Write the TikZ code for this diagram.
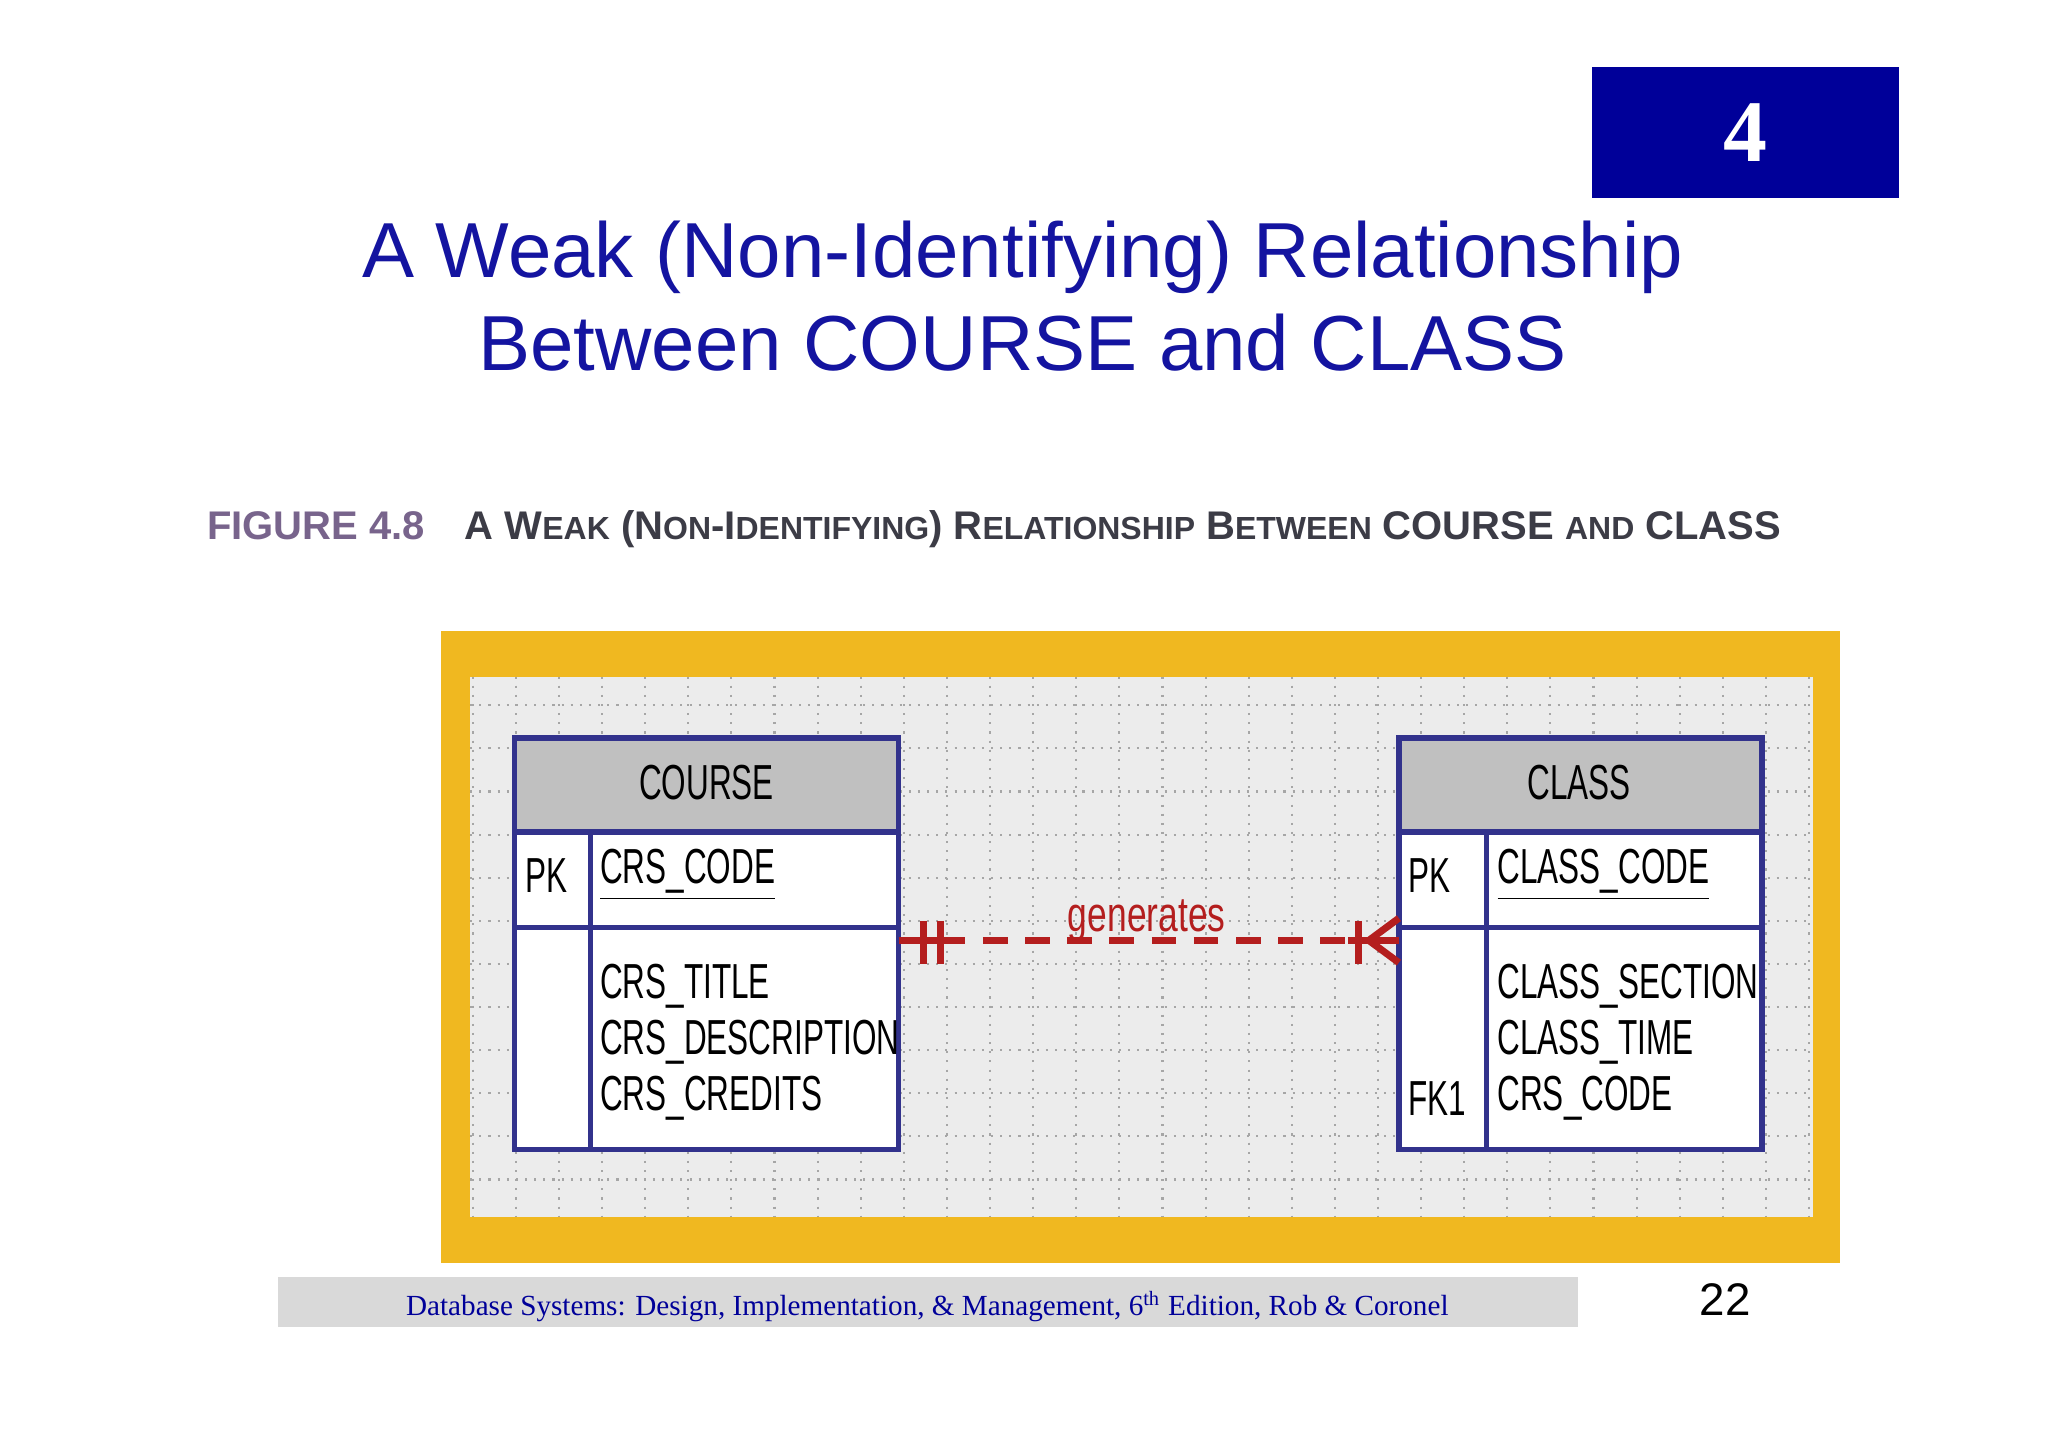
\documentclass[tikz,border=0pt]{standalone}
\usepackage{fontspec}
\setmainfont{Liberation Serif}
\setsansfont{Liberation Sans}
\usepackage{graphicx}
\usetikzlibrary{positioning}
\definecolor{navy}{RGB}{0,0,153}
\definecolor{ttl}{RGB}{20,20,160}
\definecolor{frame}{RGB}{240,184,32}
\definecolor{inner}{RGB}{236,236,236}
\definecolor{hdr}{RGB}{192,192,192}
\definecolor{tbl}{RGB}{50,50,140}
\definecolor{rel}{RGB}{180,30,30}
\definecolor{capg}{RGB}{120,100,140}
\definecolor{capd}{RGB}{60,60,70}
\newcommand{\nf}[1]{\scalebox{0.64}[1]{\sffamily\fontsize{14}{16}\selectfont #1}}
\begin{document}
\begin{tikzpicture}[x=0.01306cm,y=-0.01306cm,
  tline/.style={draw=tbl,line width=1.6pt},
  fld/.style={anchor=west,inner sep=0pt,text=black},
  relline/.style={draw=rel,line width=2pt}]
\useasboundingbox (0,0) rectangle (1568,1108);
\fill[white] (0,0) rectangle (1568,1108);
% badge
\node[fill=navy,minimum width=235*0.01306cm,minimum height=100*0.01306cm,anchor=north west,inner sep=0pt] (badge) at (1218,51) {};
\node[text=white,font=\bfseries\fontsize{25}{27}\selectfont] at (badge.center) {4};
% title
\node[text=ttl,font=\sffamily\fontsize{22.2}{26.5}\selectfont,align=center] (title) at (783,227) {A Weak (Non-Identifying) Relationship\\Between COURSE and CLASS};
% caption
\node[anchor=west,inner sep=0pt] (cap) at (158,405) {\resizebox{1205\dimexpr0.01306cm\relax}{!}{\sffamily\bfseries
 {\color{capg}FIGURE 4.8}\quad{\color{capd}A W{\footnotesize EAK} (N{\footnotesize ON}-I{\footnotesize DENTIFYING}) R{\footnotesize ELATIONSHIP} B{\footnotesize ETWEEN} COURSE {\footnotesize AND} CLASS}}};
% frame
\fill[frame] (338,483) rectangle (1409,967);
\fill[inner] (360,518) rectangle (1388,932);
\foreach \x in {362,395,...,1388} \draw[gray!70,dotted,line width=0.6pt] (\x,518) -- (\x,932);
\foreach \y in {540,573,...,932} \draw[gray!70,dotted,line width=0.6pt] (360,\y) -- (1388,\y);
% COURSE
\fill[white] (394,565) rectangle (688,880);
\fill[hdr] (394,565) rectangle (688,637);
\draw[tline] (394,565) rectangle (688,880);
\draw[tline] (394,637) -- (688,637);
\draw[tline] (394,710) -- (688,710);
\draw[tline] (452,637) -- (452,880);
\node (course) at (541,599) {\nf{COURSE}};
\node[fld] at (402,670) {\nf{PK}};
\node[fld] at (459,670) {\nf{\underline{CRS\_CODE}}};
\node[fld] at (459,755) {\nf{CRS\_TITLE}};
\node[fld] at (459,798) {\nf{CRS\_DESCRIPTION}};
\node[fld] at (459,841) {\nf{CRS\_CREDITS}};
% CLASS
\fill[white] (1071,565) rectangle (1349,880);
\fill[hdr] (1071,565) rectangle (1349,637);
\draw[tline] (1071,565) rectangle (1349,880);
\draw[tline] (1071,637) -- (1349,637);
\draw[tline] (1071,710) -- (1349,710);
\draw[tline] (1138,637) -- (1138,880);
\node (class) at (1209,599) {\nf{CLASS}};
\node[fld] at (1078,670) {\nf{PK}};
\node[fld] at (1146,670) {\nf{\underline{CLASS\_CODE}}};
\node[fld] at (1146,755) {\nf{CLASS\_SECTION}};
\node[fld] at (1146,798) {\nf{CLASS\_TIME}};
\node[fld] at (1078,841) {\nf{FK1}};
\node[fld] at (1146,841) {\nf{CRS\_CODE}};
% relationship
\coordinate (L) at (688,720);
\coordinate (R) at (1071,720);
\draw[relline,dash pattern=on 7pt off 5pt] (L) -- (R);
\draw[relline] (L) -- (728,720);
\draw[relline] (1032,720) -- (R);
\draw[relline] (707,705) -- (707,738);
\draw[relline] (720,705) -- (720,738);
\draw[relline] (1040,705) -- (1040,738);
\draw[relline] (R) ++(0,-17) -- (1048,720) -- (1071,737);
\node[text=rel,font=\sffamily\fontsize{14}{16}\selectfont] (gen) at (878,705) {\scalebox{0.72}[1]{generates}};
% footer
\fill[black!15] (213,978) rectangle (1208,1016);
\node[text=navy,font=\fontsize{8.3}{10}\selectfont] (foot) at (710,1000) {Database Systems: Design, Implementation, \& Management, 6\textsuperscript{th} Edition, Rob \& Coronel};
\node[font=\sffamily\fontsize{13}{15}\selectfont] (pg) at (1321,995) {22};
\end{tikzpicture}
\end{document}
